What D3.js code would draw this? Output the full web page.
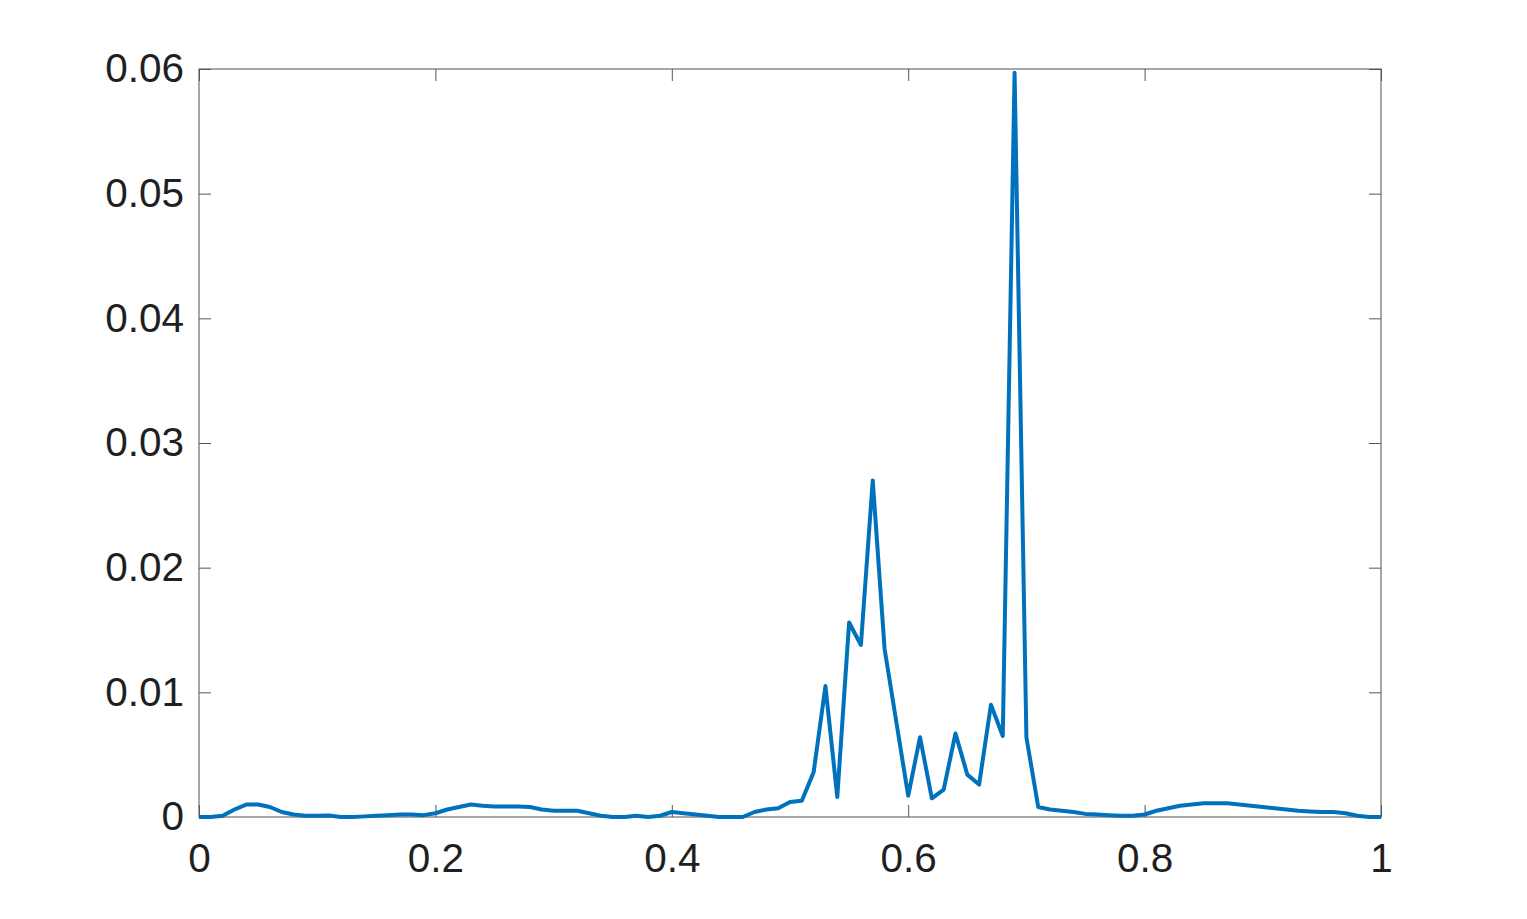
<!DOCTYPE html>
<html>
<head>
<meta charset="utf-8" />
<title>Spectrum</title>
<script src="https://d3js.org/d3.v7.min.js"></script>
<style>
    body { margin: 0; background: #fff; }
    svg { display: block; }
    .tick text { font-family: "Liberation Sans", Arial, sans-serif; fill: #1f1f1f; }
</style>
</head>
<body>
<div id="holder"></div>
<script>
    //Variables
    const w = 1527;
    const h = 919;
    const margin = {top: 69, right: 146, bottom: 102, left: 199};

    const xValues = d3.range(0, 101).map(i => i / 100);
    const yValues = [
        0, 0, 0.0001, 0.0006, 0.001, 0.001, 0.0008, 0.0004, 0.0002, 0.0001,
        0.0001, 0.00012, 0, 0, 0.00005, 0.0001, 0.00015, 0.0002, 0.0002, 0.00015,
        0.0003, 0.0006, 0.0008, 0.001, 0.0009, 0.00085, 0.00085, 0.00085, 0.0008, 0.0006,
        0.0005, 0.0005, 0.0005, 0.0003, 0.0001, 0, 0, 0.0001, 0, 0.0001,
        0.0004, 0.0003, 0.0002, 0.0001, 0, 0, 0, 0.0004, 0.0006, 0.0007,
        0.0012, 0.0013, 0.0036, 0.0105, 0.0016, 0.0156, 0.0138, 0.027, 0.0135, 0.0076,
        0.0017, 0.0064, 0.0015, 0.0022, 0.0067, 0.0034, 0.0026, 0.009, 0.0065, 0.0597,
        0.0064, 0.0008, 0.0006, 0.0005, 0.0004, 0.00025, 0.0002, 0.00015, 0.0001, 0.0001,
        0.0002, 0.0005, 0.0007, 0.0009, 0.001, 0.0011, 0.0011, 0.0011, 0.001, 0.0009,
        0.0008, 0.0007, 0.0006, 0.0005, 0.00045, 0.0004, 0.0004, 0.0003, 0.0001, 0,
        0
    ];
    const xTicks = [0, 0.2, 0.4, 0.6, 0.8, 1];
    const yTicks = [0, 0.01, 0.02, 0.03, 0.04, 0.05, 0.06];

    const dat = xValues.map((x, i) => ({x: x, y: yValues[i]}));

    const xScale = d3.scaleLinear()
        .domain([0, 1])
        .range([margin.left, w - margin.right]);

    const yScale = d3.scaleLinear()
        .domain([0, 0.06])
        .range([h - margin.bottom, margin.top]);

    const svg = d3.select("#holder")
        .append("svg")
        .attr("width", w)
        .attr("height", h);

    //Box
    svg.append("rect")
        .attr("x", xScale(0))
        .attr("y", yScale(0.06))
        .attr("width", xScale(1) - xScale(0))
        .attr("height", yScale(0) - yScale(0.06))
        .attr("fill", "none")
        .attr("stroke", "#8a8a8a")
        .attr("stroke-width", 1.5);

    //Axes
    const fmt = d => d === 0 ? "0" : d3.format("")(+d.toFixed(2));

    const xAxis = d3.axisBottom(xScale).tickValues(xTicks).tickFormat(fmt).tickSize(-12).tickPadding(26);
    svg.append("g")
        .attr("transform", "translate(0," + yScale(0) + ")")
        .call(xAxis);

    const xTop = d3.axisTop(xScale).tickValues(xTicks).tickFormat("").tickSize(-12);
    svg.append("g")
        .attr("transform", "translate(0," + yScale(0.06) + ")")
        .call(xTop);

    const yAxis = d3.axisLeft(yScale).tickValues(yTicks).tickFormat(fmt).tickSize(-12).tickPadding(15);
    svg.append("g")
        .attr("transform", "translate(" + xScale(0) + ",0)")
        .call(yAxis);

    const yRight = d3.axisRight(yScale).tickValues(yTicks).tickFormat("").tickSize(-12);
    svg.append("g")
        .attr("transform", "translate(" + xScale(1) + ",0)")
        .call(yRight);

    svg.selectAll(".domain").remove();
    svg.selectAll(".tick line").attr("stroke", "#555").attr("stroke-width", 1);
    svg.selectAll(".tick text").style("font-size", "40.5px");

    //Line
    const line = d3.line()
        .x(d => xScale(d.x))
        .y(d => yScale(d.y));

    svg.append("path")
        .datum(dat)
        .attr("d", line)
        .attr("fill", "none")
        .attr("stroke", "#0072BD")
        .attr("stroke-width", 4)
        .attr("stroke-linejoin", "round");
</script>
</body>
</html>
